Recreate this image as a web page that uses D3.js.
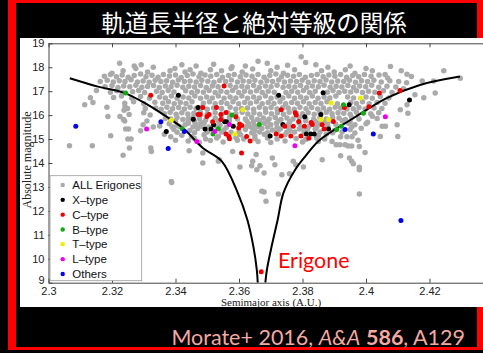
<!DOCTYPE html>
<html>
<head>
<meta charset="utf-8">
<script src="https://cdn.jsdelivr.net/npm/d3@7"></script>
<style>
  body { margin: 0; background: #000; }
  svg { display: block; }
</style>
</head>
<body>
<div id="chart"></div>
<script>
// ---- data (a in A.U., H in mag) ----
const xTicks = [2.3, 2.32, 2.34, 2.36, 2.38, 2.4, 2.42];
const yTicks = [9, 10, 11, 12, 13, 14, 15, 16, 17, 18, 19];

const legendLabels = ["ALL Erigones", "X\u2013type", "C\u2013type", "B\u2013type", "T\u2013type", "L\u2013type", "Others"];

// grey background family members
const allErigones = [
  [2.3224,18.17],[2.3292,18.10],[2.3796,18.44],[2.3842,18.10],[2.3689,18.17],[2.3753,18.08],[2.4077,18.03],[2.3465,18.05],[2.3578,18.02],
  [2.3270,18.05],[2.3330,18.0],[2.3420,18.1],[2.3520,18.12],[2.3620,18.05],[2.3660,18.25],[2.3720,18.0],[2.3810,18.2],[2.3880,18.0],[2.3950,18.05],[2.4000,17.95],
  [2.3200,17.75],[2.3235,17.85],[2.3275,17.95],[2.3312,17.8],[2.3383,17.85],[2.3398,17.95],[2.3430,17.8],[2.3446,17.9],[2.3480,17.75],[2.3510,17.9],[2.3545,17.85],[2.3575,17.95],[2.3610,17.8],[2.3643,17.93],[2.3700,17.85],[2.3740,17.75],[2.3775,17.9],[2.3860,17.85],[2.3900,17.8],[2.3935,17.9],[2.3965,17.75],[2.4020,17.85],[2.4060,17.7],[2.4111,17.85],[2.4129,17.71],[2.4143,17.61],[2.4245,17.85],[2.4297,17.54],[2.4177,17.43],[2.4213,17.43],
  [2.3176,17.62],[2.3195,17.7],[2.3214,17.6],[2.3232,17.68],[2.3251,17.58],[2.3270,17.66],[2.3290,17.72],[2.3307,17.6],[2.3326,17.67],[2.3345,17.58],[2.3362,17.7],[2.3381,17.63],[2.3400,17.68],[2.3418,17.57],[2.3437,17.66],[2.3455,17.72],[2.3474,17.6],[2.3493,17.68],[2.3511,17.62],[2.3530,17.7],[2.3548,17.58],[2.3567,17.66],[2.3585,17.7],[2.3604,17.6],[2.3622,17.68],[2.3641,17.62],[2.3660,17.7],[2.3679,17.58],[2.3697,17.66],[2.3716,17.72],[2.3734,17.6],[2.3753,17.67],[2.3772,17.62],[2.3790,17.7],[2.3809,17.58],[2.3828,17.66],[2.3846,17.7],[2.3865,17.6],[2.3883,17.68],[2.3902,17.62],[2.3920,17.7],[2.3939,17.58],[2.3958,17.66],[2.3977,17.6],[2.3995,17.7],[2.4016,17.62],[2.4041,17.68],[2.4068,17.55],
  [2.3163,17.4],[2.3185,17.46],[2.3204,17.38],[2.3223,17.44],[2.3241,17.4],[2.3260,17.48],[2.3280,17.38],[2.3298,17.43],[2.3317,17.37],[2.3336,17.46],[2.3354,17.4],[2.3372,17.44],[2.3391,17.37],[2.3409,17.47],[2.3428,17.4],[2.3446,17.43],[2.3465,17.38],[2.3483,17.46],[2.3502,17.41],[2.3521,17.37],[2.3539,17.45],[2.3558,17.4],[2.3576,17.47],[2.3595,17.38],[2.3613,17.43],[2.3632,17.4],[2.3650,17.46],[2.3669,17.37],[2.3688,17.44],[2.3706,17.4],[2.3725,17.47],[2.3743,17.38],[2.3762,17.43],[2.3781,17.4],[2.3799,17.46],[2.3818,17.37],[2.3837,17.44],[2.3855,17.4],[2.3874,17.47],[2.3892,17.38],[2.3911,17.43],[2.3930,17.4],[2.3948,17.46],[2.3967,17.37],[2.3986,17.44],[2.4005,17.4],[2.4025,17.46],[2.4048,17.38],[2.4075,17.44],[2.4103,17.4],[2.4128,17.35],
  [2.3178,17.18],[2.3200,17.24],[2.3219,17.15],[2.3237,17.22],[2.3256,17.18],[2.3275,17.25],[2.3294,17.16],[2.3312,17.2],[2.3331,17.24],[2.3349,17.15],[2.3368,17.22],[2.3386,17.18],[2.3405,17.25],[2.3423,17.16],[2.3442,17.21],[2.3460,17.17],[2.3479,17.24],[2.3497,17.15],[2.3516,17.22],[2.3534,17.18],[2.3572,17.24],[2.3590,17.16],[2.3609,17.21],[2.3627,17.17],[2.3646,17.24],[2.3664,17.15],[2.3683,17.22],[2.3701,17.18],[2.3720,17.25],[2.3739,17.16],[2.3757,17.21],[2.3776,17.17],[2.3794,17.24],[2.3813,17.15],[2.3831,17.22],[2.3850,17.18],[2.3868,17.25],[2.3887,17.16],[2.3906,17.21],[2.3924,17.17],[2.3943,17.24],[2.3961,17.15],[2.3980,17.22],[2.3999,17.18],[2.4018,17.25],[2.4040,17.16],[2.4066,17.21],[2.4094,17.17],[2.4118,17.1],
  [2.3151,17.03],[2.3195,16.96],[2.3215,17.02],[2.3233,16.94],[2.3265,16.98],[2.3284,17.03],[2.3303,16.95],[2.3340,17.0],[2.3358,16.94],[2.3377,17.03],[2.3395,16.97],[2.3432,17.02],[2.3451,16.94],[2.3469,17.0],[2.3488,16.96],[2.3506,17.03],[2.3525,16.95],[2.3543,17.0],[2.3562,16.96],[2.3580,17.03],[2.3599,16.94],[2.3617,17.0],[2.3636,16.97],[2.3655,17.02],[2.3673,16.94],[2.3692,17.0],[2.3711,16.96],[2.3748,16.94],[2.3766,17.0],[2.3785,16.96],[2.3803,17.03],[2.3822,16.95],[2.3840,17.0],[2.3878,16.96],[2.3896,17.03],[2.3915,16.94],[2.3933,17.0],[2.3952,16.97],[2.3970,17.02],[2.3989,16.94],[2.4008,17.0],[2.4028,16.96],[2.4055,17.02],[2.4082,16.95],[2.4154,16.85],[2.4218,16.92],
  [2.3132,16.73],[2.3205,16.74],[2.3230,16.8],[2.3262,16.72],[2.3290,16.78],[2.3318,16.7],[2.3350,16.76],[2.3368,16.72],[2.3387,16.8],[2.3405,16.7],[2.3424,16.76],[2.3442,16.72],[2.3461,16.8],[2.3479,16.7],[2.3498,16.76],[2.3516,16.72],[2.3535,16.8],[2.3553,16.7],[2.3572,16.76],[2.3590,16.72],[2.3609,16.8],[2.3627,16.7],[2.3646,16.76],[2.3664,16.72],[2.3683,16.8],[2.3701,16.7],[2.3720,16.76],[2.3738,16.72],[2.3757,16.8],[2.3775,16.7],[2.3794,16.76],[2.3812,16.72],[2.3831,16.8],[2.3849,16.7],[2.3868,16.76],[2.3886,16.72],[2.3905,16.8],[2.3942,16.76],[2.3961,16.72],[2.4000,16.76],[2.4020,16.7],[2.4045,16.78],[2.4072,16.72],[2.4182,16.73],
  [2.3140,16.53],[2.3114,16.43],[2.3184,16.33],[2.3240,16.5],[2.3268,16.56],[2.3300,16.48],[2.3335,16.54],[2.3360,16.5],[2.3378,16.56],[2.3396,16.47],[2.3415,16.53],[2.3433,16.49],[2.3452,16.56],[2.3488,16.5],[2.3507,16.56],[2.3525,16.47],[2.3544,16.53],[2.3562,16.49],[2.3581,16.56],[2.3599,16.47],[2.3618,16.53],[2.3636,16.5],[2.3655,16.56],[2.3673,16.47],[2.3692,16.53],[2.3710,16.49],[2.3729,16.56],[2.3747,16.47],[2.3766,16.53],[2.3784,16.5],[2.3803,16.56],[2.3821,16.47],[2.3840,16.53],[2.3858,16.49],[2.3877,16.56],[2.3910,16.47],[2.3952,16.53],[2.3970,16.49],[2.3989,16.56],[2.4010,16.47],[2.4035,16.53],[2.4060,16.5],[2.4129,16.43],
  [2.3241,16.35],[2.3249,16.28],[2.3238,16.2],[2.3305,16.28],[2.3338,16.3],[2.3355,16.25],[2.3373,16.33],[2.3391,16.27],[2.3410,16.32],[2.3428,16.26],[2.3446,16.33],[2.3465,16.28],[2.3482,16.33],[2.3500,16.25],[2.3520,16.3],[2.3545,16.28],[2.3572,16.33],[2.3590,16.26],[2.3608,16.28],[2.3627,16.3],[2.3646,16.25],[2.3664,16.33],[2.3683,16.27],[2.3701,16.32],[2.3720,16.26],[2.3738,16.32],[2.3755,16.3],[2.3774,16.25],[2.3792,16.33],[2.3811,16.27],[2.3829,16.32],[2.3848,16.26],[2.3866,16.3],[2.3885,16.25],[2.3903,16.33],[2.3920,16.3],[2.3940,16.26],[2.3960,16.27],[2.3978,16.32],[2.3997,16.26],[2.4025,16.3],[2.4050,16.28],[2.4108,16.22],
  [2.3254,16.03],[2.3300,16.1],[2.3320,16.0],[2.3365,16.06],[2.3383,16.12],[2.3402,16.04],[2.3420,16.1],[2.3439,16.05],[2.3458,16.08],[2.3478,16.12],[2.3500,16.06],[2.3525,16.1],[2.3545,16.05],[2.3565,16.1],[2.3590,16.06],[2.3610,16.12],[2.3628,16.05],[2.3647,16.1],[2.3665,16.04],[2.3684,16.12],[2.3702,16.06],[2.3721,16.1],[2.3740,16.04],[2.3758,16.12],[2.3780,16.08],[2.3800,16.06],[2.3818,16.1],[2.3837,16.04],[2.3855,16.1],[2.3875,16.12],[2.3893,16.06],[2.3912,16.1],[2.3930,16.08],[2.3950,16.04],[2.3970,16.12],[2.4015,16.06],[2.4040,16.1],[2.4132,16.08],
  [2.3187,15.94],[2.3225,15.94],[2.3240,15.75],[2.3236,15.82],[2.3310,15.75],[2.4020,15.95],
  [2.3368,15.86],[2.3385,15.84],[2.3405,15.9],[2.3423,15.82],[2.3440,15.86],[2.3455,15.9],[2.3475,15.86],[2.3495,15.8],[2.3525,15.88],[2.3545,15.86],[2.3570,15.9],[2.3595,15.84],[2.3620,15.84],[2.3640,15.9],[2.3658,15.82],[2.3677,15.88],[2.3695,15.84],[2.3714,15.9],[2.3732,15.82],[2.3751,15.88],[2.3770,15.84],[2.3790,15.9],[2.3810,15.86],[2.3835,15.84],[2.3855,15.9],[2.3875,15.84],[2.3895,15.9],[2.3915,15.88],[2.3935,15.82],[2.3955,15.9],[2.3978,15.84],[2.4035,15.86],
  [2.3400,15.74],[2.3440,15.76],[2.3460,15.72],[2.3480,15.7],[2.3535,15.74],[2.3570,15.78],[2.3625,15.74],[2.3645,15.72],[2.3665,15.76],[2.3690,15.74],[2.3725,15.76],[2.3760,15.72],[2.3810,15.76],[2.3840,15.74],[2.3858,15.72],[2.3880,15.7],[2.3925,15.76],[2.3950,15.72],
  [2.3298,15.6],[2.3330,15.5],[2.3350,15.55],[2.3430,15.6],[2.3243,15.42],[2.3252,15.42],[2.3290,15.35],[2.4005,15.7],[2.4051,15.53],[2.4061,15.53],[2.4098,15.6],
  [2.3380,15.64],[2.3405,15.58],[2.3440,15.66],[2.3465,15.6],[2.3490,15.66],[2.3540,15.58],[2.3630,15.64],[2.3648,15.58],[2.3680,15.66],[2.3700,15.6],[2.3718,15.66],[2.3755,15.6],[2.3790,15.66],[2.3850,15.62],[2.3870,15.68],[2.3905,15.62],[2.3945,15.66],[2.3965,15.6],[2.4000,15.64],
  [2.3390,15.5],[2.3412,15.52],[2.3455,15.5],[2.3480,15.54],[2.3505,15.5],[2.3530,15.52],[2.3560,15.48],[2.3625,15.52],[2.3640,15.48],[2.3660,15.52],[2.3690,15.5],[2.3720,15.48],[2.3755,15.5],[2.3795,15.48],[2.3820,15.52],[2.3845,15.5],[2.3880,15.54],[2.3955,15.5],
  [2.3395,15.4],[2.3445,15.36],[2.3470,15.44],[2.3552,15.38],[2.3620,15.4],[2.3650,15.36],[2.3672,15.44],[2.3705,15.38],[2.3730,15.42],[2.3760,15.36],[2.3790,15.42],[2.3815,15.38],[2.3840,15.42],[2.3900,15.36],[2.3950,15.4],[2.3985,15.45],
  [2.3405,15.28],[2.3460,15.26],[2.3500,15.3],[2.3545,15.3],[2.3575,15.28],[2.3600,15.3],[2.3640,15.26],[2.3665,15.3],[2.3690,15.26],[2.3720,15.3],[2.3750,15.28],[2.3775,15.3],[2.3805,15.3],[2.3855,15.3],[2.3895,15.26],[2.3925,15.3],
  [2.3196,15.14],[2.3365,15.2],[2.3420,15.16],[2.3450,15.1],[2.3490,15.18],[2.3535,15.12],[2.3605,15.18],[2.3650,15.14],[2.3680,15.2],[2.3745,15.18],[2.3850,15.14],[2.3875,15.2],[2.3920,15.1],[2.3956,15.1],[2.3965,15.25],[2.4045,15.11],[2.4100,15.11],
  [2.3460,15.02],[2.3495,15.0],[2.3530,15.04],[2.3590,15.06],[2.3615,15.0],[2.3650,15.02],[2.3690,15.04],[2.3720,15.0],[2.3780,15.02],[2.3810,14.98],[2.3845,15.04],[2.3870,15.0],
  [2.3250,15.0],[2.3260,15.0],[2.3385,15.1],[2.3400,14.95],[2.3440,14.92],[2.3475,14.86],[2.3510,14.94],[2.3550,14.88],[2.3595,14.95],[2.3660,14.9],[2.3700,14.86],[2.3745,14.92],[2.3800,14.88],[2.3850,14.9],[2.3893,14.9],[2.3940,15.1],[2.3975,14.95],
  [2.3066,14.72],[2.3138,14.72],[2.3255,14.63],[2.3322,14.63],[2.3324,14.48],[2.3235,14.32],[2.3443,14.51],[2.3486,14.42],[2.3580,14.48],[2.3654,14.35],[2.3906,14.76],[2.3918,14.76],[2.3934,14.76],[2.3944,14.71],[2.3955,14.71],[2.3979,14.69],[2.3997,14.44],[2.3920,14.3],[2.3948,14.21],
  [2.3486,14.0],[2.3538,14.14],[2.3535,14.07],[2.3603,13.83],[2.3640,13.89],[2.3643,14.07],[2.3666,13.89],[2.3656,13.72],[2.3679,13.58],[2.3713,13.93],[2.3705,14.21],[2.3735,13.51],[2.3759,13.55],[2.3771,14.07],[2.3779,13.93],[2.3803,13.83],[2.3862,14.14],[2.3955,14.07],[2.3960,13.97],[2.3979,13.72],[2.3979,13.82],
  [2.3387,13.23],[2.3388,13.19],[2.3672,12.82],[2.3679,12.79],[2.3685,12.40],[2.3724,12.71],[2.3979,12.71]
];

const xType = [[2.3409,16.83],[2.3471,16.32],[2.3456,15.83],[2.3555,15.72],[2.3560,15.72],[2.3582,15.54],[2.3520,15.60],[2.3493,15.42],[2.3512,15.42],[2.3371,15.32],[2.3725,16.83],[2.3865,16.93],[2.3947,16.43],[2.3807,15.93],[2.3858,16.03],[2.3738,15.61],[2.3882,15.42],[2.3698,15.13],[2.3812,15.21],[2.3826,15.21],[2.3837,15.21],[2.4137,16.63]];
const cType = [[2.3322,16.83],[2.3553,17.22],[2.3486,16.32],[2.3529,16.32],[2.3559,16.11],[2.3471,16.03],[2.3478,16.03],[2.3506,16.03],[2.3499,15.94],[2.3543,16.03],[2.3590,15.93],[2.3543,15.82],[2.3517,15.72],[2.3602,15.63],[2.3609,15.57],[2.3559,15.21],[2.3568,15.11],[2.3570,15.01],[2.3599,15.46],[2.3624,15.11],[2.3635,14.92],[2.3608,14.42],[2.3733,16.22],[2.3777,16.10],[2.3780,16.01],[2.3897,15.73],[2.3827,15.69],[2.3831,15.61],[2.3788,15.73],[2.3806,15.54],[2.3744,15.54],[2.3771,15.54],[2.3862,15.60],[2.3868,15.42],[2.3717,15.21],[2.3733,15.13],[2.3763,15.13],[2.3795,15.13],[2.3820,15.03],[2.3932,16.32],[2.4009,16.35],[2.4042,16.92],[2.4107,17.03],[2.3670,9.46]];
const bType = [[2.3243,16.92],[2.3578,16.01],[2.3664,15.61],[2.3535,15.43],[2.3421,15.43],[2.3518,15.21],[2.3929,16.43],[2.3908,15.40],[2.3922,15.53],[2.3992,16.08]];
const tType = [[2.3612,16.22],[2.3387,15.79],[2.3587,15.21],[2.3890,16.51],[2.3982,16.72],[2.3858,15.82],[2.3882,15.82]];
const lType = [[2.3309,15.42],[2.3570,15.61],[2.3524,15.32],[2.3467,14.90],[2.3776,14.72],[2.4061,15.93]];
const others = [[2.3086,15.53],[2.3354,15.72],[2.3428,15.32],[2.3377,14.61],[2.3934,15.40],[2.4023,15.21],[2.4110,11.60]];

// V-shape envelope, points
const curveLeft = [[2.3067,17.54],[2.3156,17.19],[2.3240,16.92],[2.3313,16.43],[2.3339,16.22],[2.3423,15.46],[2.3486,14.63],[2.3546,14.07],[2.3596,12.75],[2.3626,11.64],[2.3645,10.53],[2.3656,9.55],[2.3659,9.0]];
const curveRight = [[2.4296,17.61],[2.4170,17.26],[2.4065,16.71],[2.3960,15.87],[2.3855,14.97],[2.3810,14.3],[2.3777,13.72],[2.3740,12.75],[2.3722,11.64],[2.3703,10.53],[2.3688,9.55],[2.3683,9.0]];

// ---- drawing ----
const width = 483, height = 353;

const svg = d3.select("#chart")
  .append("svg")
    .attr("width", width)
    .attr("height", height);

// slide frame
svg.append("rect").attr("width", width).attr("height", height).attr("fill", "#000");
svg.append("rect").attr("x", 8).attr("y", 0).attr("width", 475).attr("height", 350).attr("fill", "#f00");
svg.append("rect").attr("x", 16).attr("y", 3).attr("width", 461).attr("height", 344).attr("fill", "#000");

svg.append("text")
  .attr("x", 254).attr("y", 32)
  .attr("text-anchor", "middle")
  .style("font-family", "'Noto Sans CJK JP', sans-serif")
  .style("font-size", "23.5px")
  .attr("fill", "#fff")
  .text("軌道長半径と絶対等級の関係");

// white figure panel
svg.append("rect").attr("x", 20).attr("y", 38).attr("width", 463).attr("height", 269).attr("fill", "#fff");

const x = d3.scaleLinear().domain([2.3, 2.44]).range([48.5, 493]);
const y = d3.scaleLinear().domain([9, 19]).range([282.7, 43.3]);

const plot = svg.append("g");

plot.append("clipPath").attr("id", "clip")
  .append("rect").attr("x", 48.5).attr("y", 43.3).attr("width", 440).attr("height", 239.4);

const marks = plot.append("g").attr("clip-path", "url(#clip)");

marks.selectAll("circle.all")
  .data(allErigones)
  .join("circle")
    .attr("class", "all")
    .attr("cx", d => x(d[0]))
    .attr("cy", d => y(d[1]))
    .attr("r", 2.75)
    .attr("fill", "#aaaaaa");

const line = d3.line()
  .x(d => x(d[0]))
  .y(d => y(d[1]))
  .curve(d3.curveCatmullRom);

[curveLeft, curveRight].forEach(c => {
  marks.append("path")
    .attr("d", line(c))
    .attr("fill", "none")
    .attr("stroke", "#000")
    .attr("stroke-width", 2);
});

const groups = [
  {data: xType, color: "#000000"},
  {data: cType, color: "#ee0000"},
  {data: bType, color: "#11aa11"},
  {data: tType, color: "#eeee00"},
  {data: lType, color: "#ee00ee"},
  {data: others, color: "#0000ee"}
];

groups.forEach(g => {
  marks.append("g").selectAll("circle")
    .data(g.data)
    .join("circle")
      .attr("cx", d => x(d[0]))
      .attr("cy", d => y(d[1]))
      .attr("r", 2.5)
      .attr("fill", g.color);
});

// axes box with inward ticks
const fmt = d => String(d);

const xAxis = plot.append("g")
  .attr("transform", `translate(0, ${y(9)})`)
  .call(d3.axisBottom(x).tickValues(xTicks).tickFormat(fmt).tickSizeInner(-4).tickSizeOuter(0).tickPadding(4.5));

const xTop = plot.append("g")
  .attr("transform", `translate(0, ${y(19)})`)
  .call(d3.axisTop(x).tickValues(xTicks).tickFormat("").tickSizeInner(-4).tickSizeOuter(0));

const yAxis = plot.append("g")
  .attr("transform", `translate(${x(2.3)}, 0)`)
  .call(d3.axisLeft(y).tickValues(yTicks).tickFormat(fmt).tickSizeInner(-4).tickSizeOuter(0).tickPadding(4));

[xAxis, xTop, yAxis].forEach(a => {
  a.select(".domain").attr("stroke", "#444");
  a.selectAll(".tick line").attr("stroke", "#444");
  a.selectAll("text")
    .style("font-family", "'Liberation Sans', Arial, sans-serif")
    .style("font-size", "11px")
    .attr("fill", "#222");
});
// lift the lowest y label a touch so it clears the "2.3" below it
yAxis.selectAll(".tick text").filter(d => d === yTicks[0]).attr("dy", "0.05em");

// axis titles
svg.append("text")
  .attr("x", 271).attr("y", 305.5)
  .attr("text-anchor", "middle")
  .style("font-family", "'Liberation Serif', 'Times New Roman', serif")
  .style("font-size", "11px")
  .attr("fill", "#222")
  .text("Semimajor axis (A.U.)");

svg.append("text")
  .attr("transform", "translate(30.5, 160) rotate(-90)")
  .attr("text-anchor", "middle")
  .style("font-family", "'Liberation Serif', 'Times New Roman', serif")
  .style("font-size", "12px")
  .attr("fill", "#222")
  .text("Absolute magnitude");

// legend
const legendColors = ["#aaaaaa"].concat(groups.map(g => g.color));
const legend = svg.append("g");
legend.append("rect")
  .attr("x", 50).attr("y", 175.7).attr("width", 91.7).attr("height", 105)
  .attr("fill", "#fff").attr("stroke", "#999").attr("stroke-width", 0.8);

legend.selectAll("g.item")
  .data(legendLabels)
  .join("g")
    .attr("class", "item")
    .attr("transform", (d, i) => `translate(0, ${185 + i * 14.83})`)
    .each(function(d, i) {
      const g = d3.select(this);
      g.append("circle").attr("cx", 62.7).attr("cy", 0).attr("r", 2.2).attr("fill", legendColors[i]);
      g.append("text").attr("x", 72.3).attr("y", 0).attr("dy", "0.36em")
        .style("font-family", "'Liberation Sans', Arial, sans-serif")
        .style("font-size", "11.5px")
        .attr("fill", "#111")
        .text(d);
    });

// family label
svg.append("text")
  .attr("x", 278).attr("y", 267.5)
  .style("font-family", "Lato, 'Open Sans', sans-serif")
  .style("font-size", "21.5px")
  .attr("fill", "#ff0000")
  .text("Erigone");

// reference caption
const cap = svg.append("text")
  .attr("x", 465).attr("y", 345)
  .attr("text-anchor", "end")
  .style("font-family", "Lato, 'Open Sans', sans-serif")
  .style("font-size", "21.5px")
  .attr("fill", "#f4a9a0");
cap.append("tspan").text("Morate+ 2016, ");
cap.append("tspan").style("font-style", "italic").text("A&A");
cap.append("tspan").text(" ");
cap.append("tspan").style("font-weight", "bold").text("586");
cap.append("tspan").text(", A129");
</script>
</body>
</html>
